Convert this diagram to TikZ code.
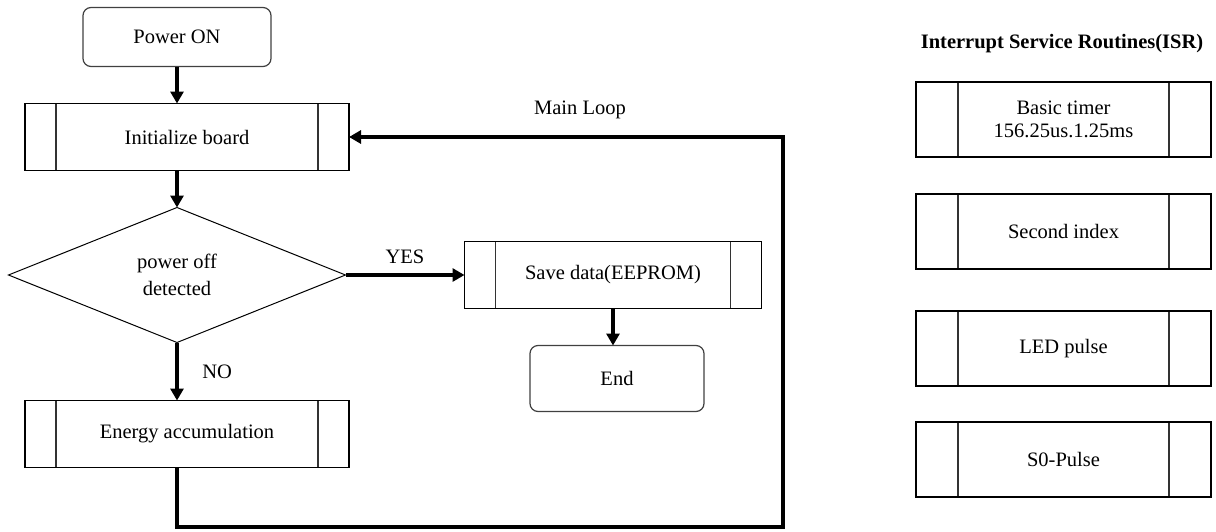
\documentclass[tikz,border=0pt]{standalone}
\usepackage{fontspec}
\setmainfont{Liberation Serif}
\usetikzlibrary{shapes.geometric, arrows.meta, positioning, calc}

\tikzset{subbox/.style={box,minimum height=67pt,
  path picture={\draw[line width=1.1pt,black!80]
    ([xshift=#1]path picture bounding box.north west) -- ([xshift=#1]path picture bounding box.south west)
    ([xshift=-#1]path picture bounding box.north east) -- ([xshift=-#1]path picture bounding box.south east);}}}

\begin{document}
\begin{tikzpicture}[x=1pt, y=-1pt, node distance=37pt, outer sep=0pt, font=\fontsize{20.5}{27}\selectfont]

\tikzstyle{box}=[rectangle,draw,line width=1.2pt,align=center,inner sep=2pt]
\tikzstyle{termbox}=[box,rounded corners=8pt,draw=black!75,minimum width=188pt,minimum height=59pt]
\tikzstyle{flowbox}=[subbox=31pt,minimum width=324pt]
\tikzstyle{isrbox}=[subbox=42pt,minimum width=295pt,minimum height=75pt]
\tikzstyle{decide}=[diamond,draw,line width=1pt,align=center,inner sep=2pt,aspect=2.5,minimum width=337pt,minimum height=135pt]
\tikzstyle{flow}=[line width=3.5pt,-{Triangle[length=12pt,width=13pt]}]

\useasboundingbox (0,0) rectangle (1216,531);

% main loop
\node[termbox] (power) at (177,37) {Power ON};
\node[flowbox] (init) [below = of power, xshift=10pt] {Initialize board};
\node[decide] (detect) [below = of init, xshift=-10pt] {power off\\detected};
\node[flowbox] (energy) [below = 58pt of detect, xshift=10pt] {Energy accumulation};
\node[subbox=31pt,minimum width=297pt] (save) [right = 119pt of detect] {Save data(EEPROM)};
\node[termbox,minimum width=174pt,minimum height=66pt] (end) [below = of save, xshift=4pt] {End};
\coordinate (loopcorner) at (783,527);
\node (mainloop) at (580,110) {Main Loop};

\draw[flow] (power.south) -- (power.south |- init.north);
\draw[flow] (init.south -| detect.north) -- (detect.north);
\draw[flow] (detect.east) -- node[above=8pt] {YES} (save.west);
\draw[flow] (detect.south) -- node[right=22pt] {NO} (detect.south |- energy.north);
\draw[flow] (save.south) -- (save.south |- end.north);
\draw[flow] (energy.south -| detect.south) |- (loopcorner) |- (init.east);

% interrupts
\node[font=\fontsize{20.5}{27}\selectfont\bfseries] (isrtitle) at (1062,44) {Interrupt Service Routines(ISR)};
\node[isrbox] (timer) at (1063.5,119.5) {Basic timer\\[-4pt]156.25us.1.25ms};
\node[isrbox] (second) [below = of timer] {Second index};
\node[isrbox] (led) [below = 42pt of second] {LED pulse};
\node[isrbox] (szero) [below = 36pt of led] {S0-Pulse};
\end{tikzpicture}
\end{document}
